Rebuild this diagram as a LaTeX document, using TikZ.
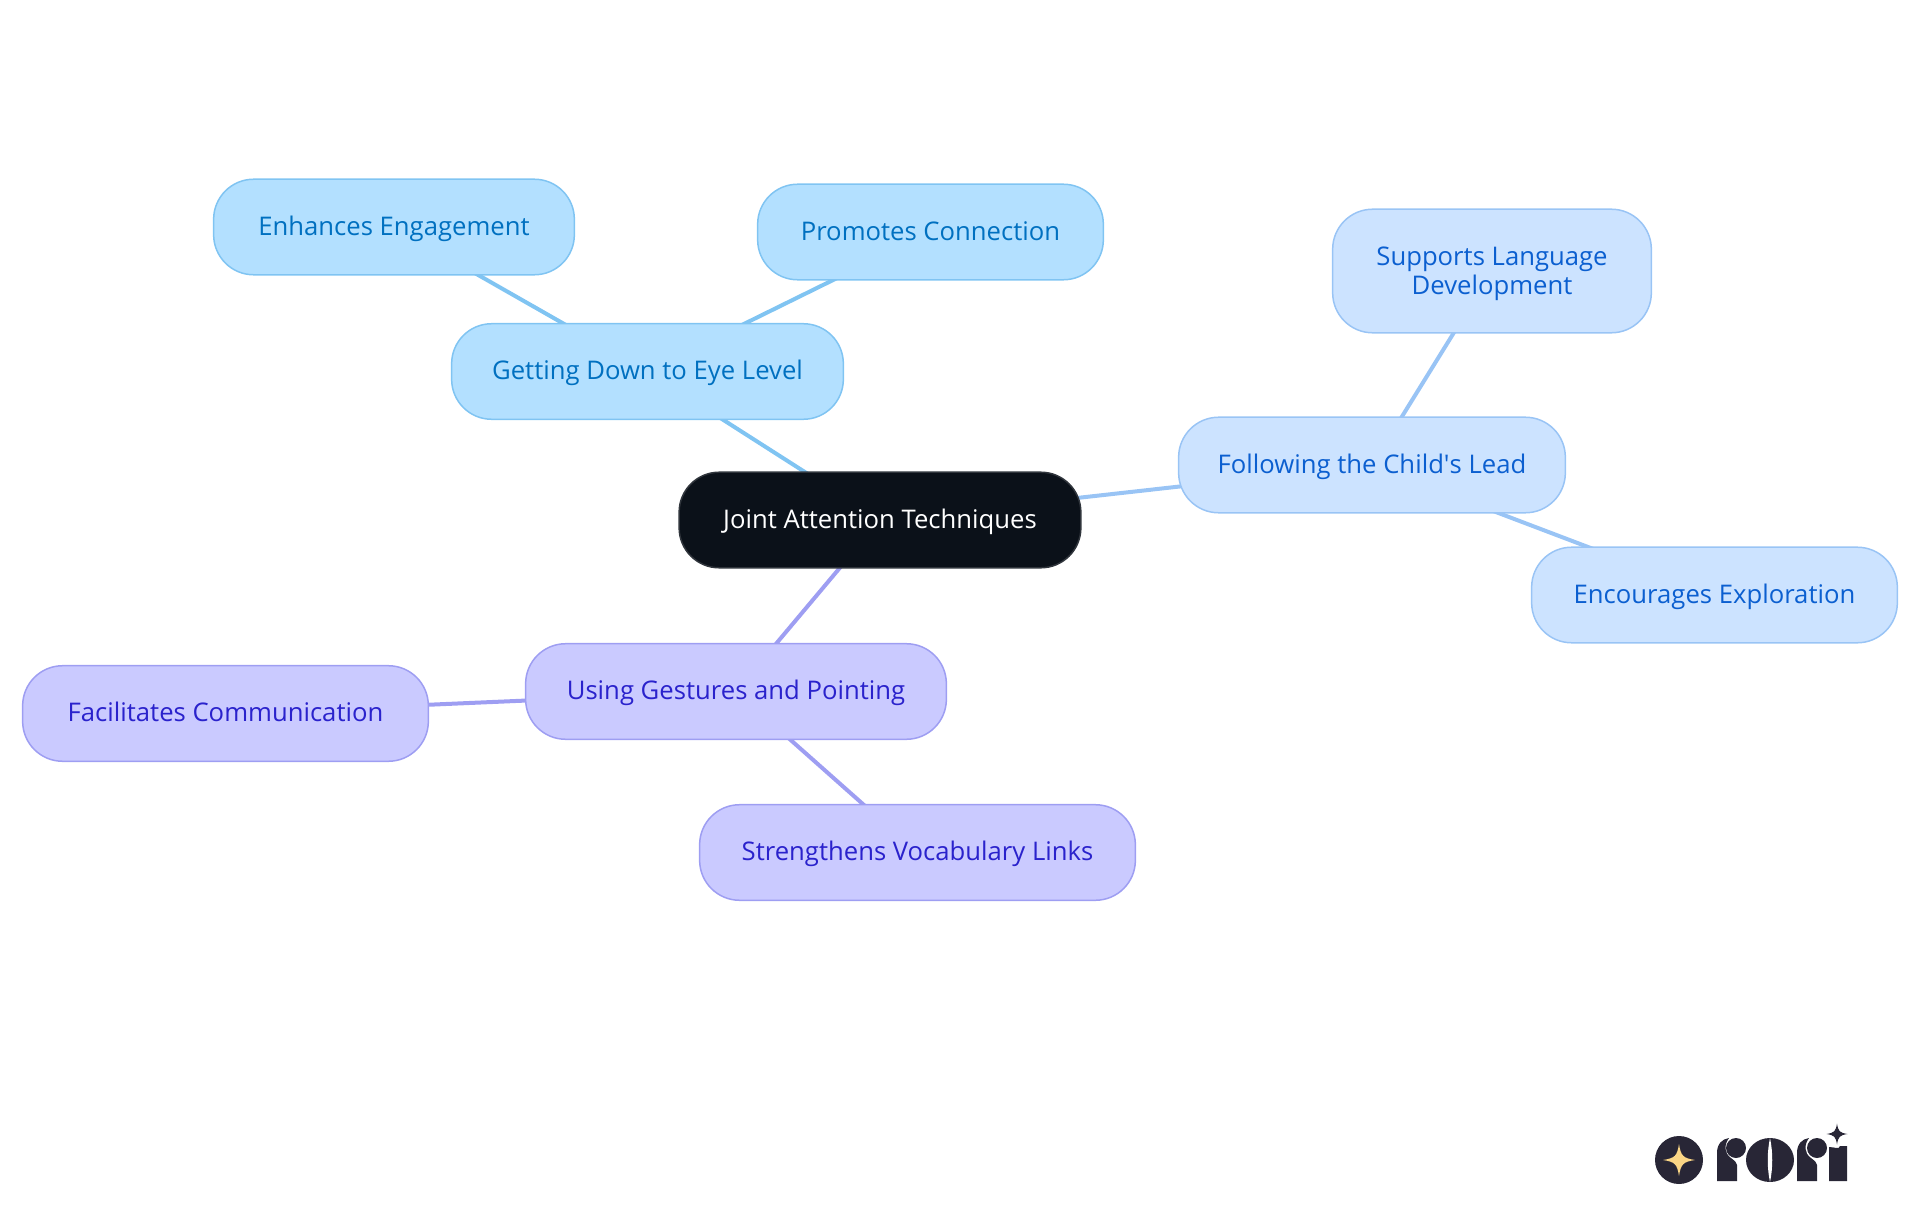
\documentclass[tikz,border=0pt]{standalone}
\usepackage{fontspec}
\setmainfont{Open Sans}
\usetikzlibrary{backgrounds}
\definecolor{skyfill}{HTML}{B3E0FF}
\definecolor{skyline}{HTML}{80C4F2}
\definecolor{skytext}{HTML}{0070C0}
\definecolor{bluefill}{HTML}{CCE3FF}
\definecolor{blueline}{HTML}{99C4F5}
\definecolor{bluetext}{HTML}{0B5FD0}
\definecolor{violetfill}{HTML}{CACAFF}
\definecolor{violetline}{HTML}{9E9EF2}
\definecolor{violettext}{HTML}{2A22CC}
\definecolor{rootfill}{HTML}{0B1119}
\definecolor{logodark}{HTML}{282636}
\definecolor{logogold}{HTML}{FAD585}
\tikzset{
  pill/.style={rectangle,rounded corners=0.4cm,line width=0.15mm,align=center,inner sep=0pt,
    minimum height=0.955cm,text height=0.22cm,text depth=0.06cm,font=\fontsize{7.3}{8.2}\selectfont},
  skypill/.style={pill,draw=skyline,fill=skyfill,text=skytext},
  bluepill/.style={pill,draw=blueline,fill=bluefill,text=bluetext},
  violetpill/.style={pill,draw=violetline,fill=violetfill,text=violettext},
  rootpill/.style={pill,draw=rootfill!85!white,fill=rootfill,text=white},
  link/.style={line width=0.4mm}
}
\newcommand{\sparkle}[4]{\fill [#4] (#1+#3,#2) .. controls (#1+#3*0.25,#2+#3*0.12) and (#1+#3*0.12,#2+#3*0.25) .. (#1,#2+#3)
  .. controls (#1-#3*0.12,#2+#3*0.25) and (#1-#3*0.25,#2+#3*0.12) .. (#1-#3,#2)
  .. controls (#1-#3*0.25,#2-#3*0.12) and (#1-#3*0.12,#2-#3*0.25) .. (#1,#2-#3)
  .. controls (#1+#3*0.12,#2-#3*0.25) and (#1+#3*0.25,#2-#3*0.12) .. (#1+#3,#2) -- cycle;}
\begin{document}
\begin{tikzpicture}[x=0.01cm,y=0.01cm]
\useasboundingbox (0,0) rectangle (1920,-1215);
\draw (880,-520) node [rootpill,minimum width=4.015cm] (root) {Joint Attention Techniques};
\draw (647.5,-371.5) node [skypill,minimum width=3.915cm] (eye) {Getting Down to Eye Level};
\draw (394,-227) node [skypill,minimum width=3.605cm] (engage) {Enhances Engagement};
\draw (930.5,-232) node [skypill,minimum width=3.455cm] (connect) {Promotes Connection};
\draw (1372,-465) node [bluepill,minimum width=3.865cm] (lead) {Following the Child\textquotesingle s Lead};
\draw (1492,-271) node [bluepill,minimum width=3.185cm,minimum height=1.235cm,text height=0.5cm,text depth=0.03cm] (language) {Supports Language\\Development};
\draw (1714.5,-595) node [bluepill,minimum width=3.655cm] (explore) {Encourages Exploration};
\draw (736,-691.5) node [violetpill,minimum width=4.205cm] (gesture) {Using Gestures and Pointing};
\draw (225.5,-713.5) node [violetpill,minimum width=4.055cm] (communicate) {Facilitates Communication};
\draw (917.5,-852.5) node [violetpill,minimum width=4.355cm] (vocab) {Strengthens Vocabulary Links};
\begin{scope}[on background layer]
\draw [link,skyline] (root.center) -- (eye.center);
\draw [link,skyline] (eye.center) -- (engage.center);
\draw [link,skyline] (eye.center) -- (connect.center);
\draw [link,blueline] (root.center) -- (lead.center);
\draw [link,blueline] (lead.center) -- (language.center);
\draw [link,blueline] (lead.center) -- (explore.center);
\draw [link,violetline] (root.center) -- (gesture.center);
\draw [link,violetline] (gesture.center) -- (communicate.center);
\draw [link,violetline] (gesture.center) -- (vocab.center);
\end{scope}
% logo
\fill [logodark] (1679,-1160) circle (24);
\sparkle{1679}{-1160}{16}{logogold}
\fill [logodark] (1717,-1181) -- (1717,-1153) .. controls (1717,-1144) and (1722,-1139) .. (1729,-1138) .. controls (1724,-1145) and (1724,-1153) .. (1731,-1158) .. controls (1735,-1161) and (1737,-1163) .. (1737,-1165) -- (1737,-1181) -- cycle;
\fill [logodark] (1736,-1148) circle (10);
\fill [logodark] (1770,-1160) ellipse (24 and 22);
\fill [white] (1770,-1138) .. controls (1767,-1152) and (1767,-1168) .. (1770,-1182) .. controls (1773,-1168) and (1773,-1152) .. (1770,-1138) -- cycle;
\fill [logodark] (1797,-1181) -- (1797,-1153) .. controls (1797,-1144) and (1802,-1139) .. (1809,-1138) .. controls (1804,-1145) and (1804,-1153) .. (1811,-1158) .. controls (1815,-1161) and (1817,-1163) .. (1817,-1165) -- (1817,-1181) -- cycle;
\fill [logodark] (1817,-1148) circle (10);
\fill [logodark] (1829,-1181) -- (1829,-1147) .. controls (1835,-1147) and (1839,-1150) .. (1840,-1146) -- (1847,-1146) -- (1847,-1181) -- cycle;
\sparkle{1837}{-1134}{10.5}{logodark}
\end{tikzpicture}
\end{document}
